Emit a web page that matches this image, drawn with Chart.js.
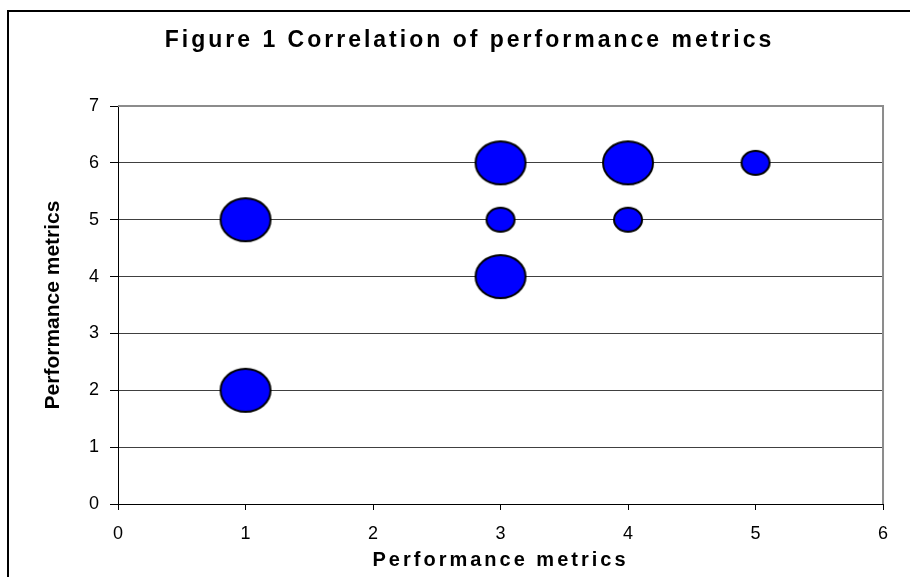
<!DOCTYPE html>
<html lang="en">
<head>
    <meta charset="UTF-8">
    <title>Figure 1 Correlation of performance metrics</title>
    <script src="https://cdn.jsdelivr.net/npm/chart.js"></script>
    <style>
        html, body { margin: 0; padding: 0; background: #fff; overflow: hidden; }
        /* outer figure frame, right/bottom edges fall outside the window */
        .frame {
            position: absolute;
            left: 7px;
            top: 10px;
            width: 940px;
            height: 620px;
            border: 2px solid #000;
        }
        #chart { position: absolute; left: 0; top: 0; }
    </style>
</head>
<body>
    <div class="frame"></div>
    <canvas id="chart" width="910" height="577"></canvas>

    <script>
        // data
        const xValues = [1, 1, 3, 3, 3, 4, 4, 5];
        const yValues = [5, 2, 6, 5, 4, 6, 5, 6];
        const bubbleSizes = [3, 3, 3, 1, 3, 3, 1, 1];

        const xTicks = [0, 1, 2, 3, 4, 5, 6];
        const yTicks = [0, 1, 2, 3, 4, 5, 6, 7];

        const chartTitle = 'Figure 1 Correlation of performance metrics';
        const xTitle = 'Performance metrics';
        const yTitle = 'Performance metrics';

        // excel draws the bubbles slightly wider than tall, so use an image as point style
        function bubbleImage(size) {
            const rx = 15 * Math.sqrt(size);
            const ry = 13 * Math.sqrt(size);
            const c = document.createElement('canvas');
            c.width = Math.round(rx * 2) + 2;
            c.height = Math.round(ry * 2) + 2;
            const g = c.getContext('2d');
            g.beginPath();
            g.ellipse(c.width / 2, c.height / 2, rx - 1, ry - 1, 0, 0, Math.PI * 2);
            g.fillStyle = '#0000ff';
            g.fill();
            g.lineWidth = 2;
            g.strokeStyle = '#000';
            g.stroke();
            return c;
        }
        const bubbleImages = bubbleSizes.map(s => bubbleImage(s));

        // spaced out text for the titles (drawn before datasets), plain for the rest
        const letterSpacing = {
            id: 'letterSpacing',
            beforeDraw(chart) { chart.ctx.letterSpacing = '3px'; },
            beforeDatasetsDraw(chart) { chart.ctx.letterSpacing = '0px'; }
        };

        // grey top and right edge of the plot area
        const plotFrame = {
            id: 'plotFrame',
            beforeDatasetsDraw(chart) {
                const { ctx, chartArea: a } = chart;
                ctx.save();
                ctx.strokeStyle = '#8c8c8c';
                ctx.lineWidth = 2;
                ctx.beginPath();
                ctx.moveTo(a.left, a.top);
                ctx.lineTo(a.right, a.top);
                ctx.lineTo(a.right, a.bottom);
                ctx.stroke();
                ctx.restore();
            }
        };

        Chart.defaults.font.family = '"Liberation Sans", Arial, sans-serif';
        Chart.defaults.color = '#000';

        new Chart(document.getElementById('chart'), {
            type: 'bubble',
            data: {
                datasets: [{
                    data: xValues.map((x, i) => ({ x: x, y: yValues[i], r: 15 * Math.sqrt(bubbleSizes[i]) })),
                    backgroundColor: '#0000ff',
                    borderColor: '#000',
                    pointStyle: ctx => bubbleImages[ctx.dataIndex]
                }]
            },
            options: {
                responsive: false,
                animation: false,
                events: [],
                layout: { padding: { top: 10, left: 49, right: 20, bottom: 0 } },
                plugins: {
                    legend: { display: false },
                    tooltip: { enabled: false },
                    title: {
                        display: true,
                        text: chartTitle,
                        color: '#000',
                        font: { size: 23, weight: 'bold' },
                        padding: { top: 17, bottom: 51.4 }
                    }
                },
                scales: {
                    x: {
                        min: xTicks[0],
                        max: xTicks[xTicks.length - 1],
                        afterBuildTicks: scale => { scale.ticks = xTicks.map(v => ({ value: v })); },
                        afterFit: scale => { scale.height = 73; },
                        grid: {
                            display: true,
                            drawOnChartArea: false,
                            drawTicks: true,
                            tickLength: 6,
                            tickColor: '#000'
                        },
                        border: { display: true, color: '#000', width: 1 },
                        ticks: { z: 1, padding: 13.5, font: { size: 18 }, color: '#000' },
                        title: {
                            display: true,
                            text: xTitle,
                            color: '#000',
                            font: { size: 20, weight: 'bold' },
                            padding: { top: 0, bottom: 5 }
                        }
                    },
                    y: {
                        min: yTicks[0],
                        max: yTicks[yTicks.length - 1],
                        weight: 0,
                        afterBuildTicks: scale => { scale.ticks = yTicks.map(v => ({ value: v })); },
                        afterFit: scale => { scale.width = 49; },
                        grid: {
                            color: '#404040',
                            lineWidth: 1,
                            drawTicks: true,
                            tickLength: 8,
                            tickColor: '#000'
                        },
                        border: { display: true, color: '#000', width: 1 },
                        ticks: { z: 1, padding: 11, font: { size: 18 }, color: '#000' }
                    },
                    // holds only the rotated y title, drawn after the bubbles without spacing
                    yTitle: {
                        type: 'linear',
                        position: 'left',
                        weight: 1,
                        afterFit: scale => { scale.width = 20; },
                        grid: { display: false, z: 1 },
                        border: { display: false },
                        ticks: { display: false },
                        title: {
                            display: true,
                            text: yTitle,
                            color: '#000',
                            font: { size: 21, weight: 'bold', lineHeight: 0.4 },
                            padding: 0
                        }
                    }
                }
            },
            plugins: [letterSpacing, plotFrame]
        });
    </script>
</body>
</html>
